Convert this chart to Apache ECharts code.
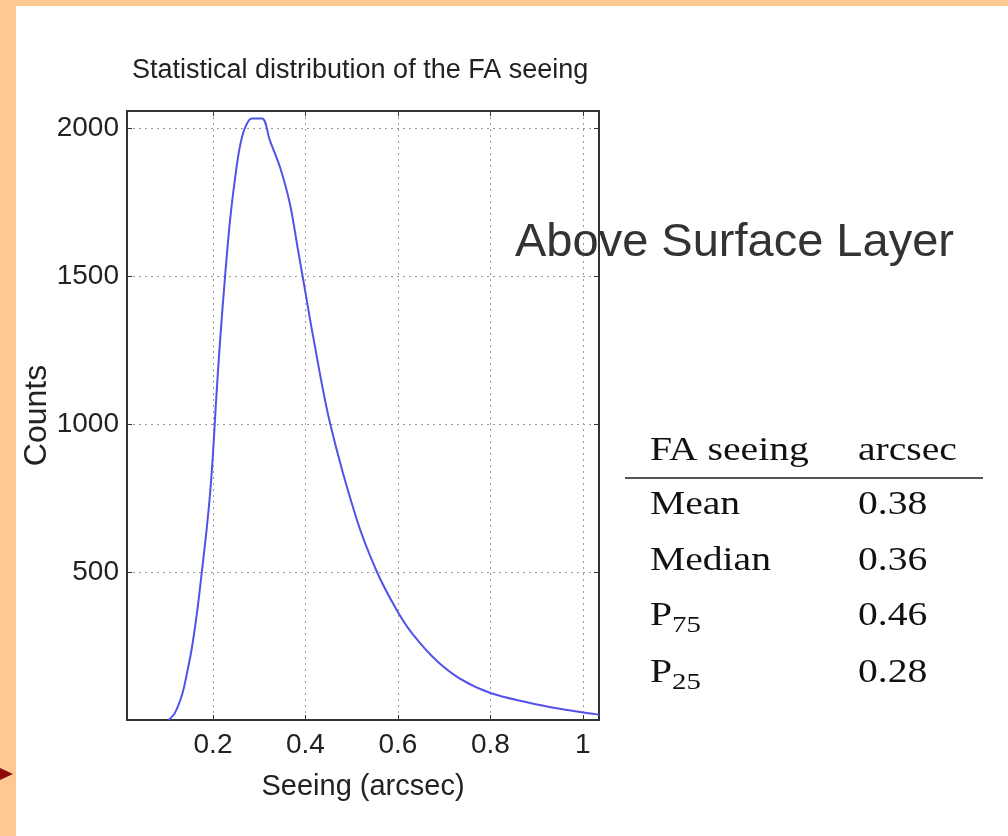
<!DOCTYPE html>
<html>
<head>
<meta charset="utf-8">
<script src="https://cdn.jsdelivr.net/npm/echarts@6/dist/echarts.min.js"></script>
<style>
  html, body { margin: 0; padding: 0; background: #fec893; }
  #panel { position: absolute; left: 16px; top: 6px; width: 992px; height: 830px; background: #fff; }
  #chart { position: absolute; left: 0; top: 0; width: 1008px; height: 836px; }
</style>
</head>
<body>
<div id="panel"></div>
<div id="chart"></div>
<script>
// FA seeing histogram (arcsec vs counts)
const seeing = [0.104, 0.118, 0.133, 0.144, 0.155, 0.166, 0.176, 0.186, 0.194, 0.200, 0.206, 0.215,
  0.226, 0.237, 0.248, 0.258, 0.269, 0.284, 0.306, 0.323, 0.345, 0.366, 0.384, 0.399, 0.416,
  0.453, 0.511, 0.555, 0.598, 0.632, 0.684, 0.734, 0.799, 0.879, 0.950, 1.022, 1.035];
const counts = [0, 25, 85, 160, 250, 370, 502, 640, 770, 900, 1060, 1274,
  1496, 1689, 1833, 1935, 1999, 2032, 2032, 1958, 1867, 1746, 1587, 1453, 1301,
  1004, 677, 499, 370, 290, 200, 140, 92, 60, 38, 21, 18];

// summary table on the right
const statNames = ["Mean", "Median", "P", "P"];
const statSubs = ["", "", "75", "25"];
const statValues = ["0.38", "0.36", "0.46", "0.28"];

const SANS = "'Liberation Sans', Arial, sans-serif";
const SERIF = "'Liberation Serif', serif";

const grid = { left: 127, top: 111, right: 409, bottom: 116 };
const dotted = { color: "#9a9a9a", width: 1, type: [2, 4] };
const boxLine = { show: true, onZero: false, lineStyle: { color: "#333", width: 2 } };
const inTick = { show: true, inside: true, length: 5, lineStyle: { color: "#333" } };

function tableGraphics() {
  const els = [];
  const sx = 1.2;
  const txt = (s, x, base, size) => ({
    type: "text", x, y: base - size * 0.34, scaleX: sx,
    style: { text: s, font: `${size}px ${SERIF}`, fill: "#111", verticalAlign: "middle" },
  });
  els.push(txt("FA seeing", 650, 463, 33));
  els.push(txt("arcsec", 858, 463, 33));
  els.push({ type: "line", shape: { x1: 625, y1: 478, x2: 983, y2: 478 }, style: { stroke: "#555", lineWidth: 2 } });
  const bases = [517, 573, 628, 685];
  statNames.forEach((n, i) => {
    els.push(txt(n, 650, bases[i], 33));
    if (statSubs[i]) els.push(txt(statSubs[i], 672, bases[i] + 6, 24));
    els.push(txt(statValues[i], 858, bases[i], 33));
  });
  return els;
}

const chart = echarts.init(document.getElementById("chart"), null, { renderer: "canvas" });
chart.setOption({
  animation: false,
  backgroundColor: "transparent",
  title: {
    text: "Statistical distribution of the FA seeing",
    left: 127, top: 52,
    textStyle: { fontFamily: SANS, fontSize: 27, fontWeight: "normal", color: "#222" },
  },
  grid,
  xAxis: [
    {
      type: "value", min: 0.014, max: 1.035, splitNumber: 5,
      name: "Seeing (arcsec)", nameLocation: "middle", nameGap: 52,
      nameTextStyle: { fontFamily: SANS, fontSize: 29, color: "#222" },
      axisLine: boxLine, axisTick: inTick,
      axisLabel: { showMinLabel: false, showMaxLabel: false, margin: 11, fontFamily: SANS, fontSize: 28, color: "#222" },
      splitLine: { show: true, lineStyle: dotted },
    },
    {
      type: "value", position: "top", min: 0.014, max: 1.035, splitNumber: 5,
      axisLine: boxLine, axisTick: inTick, axisLabel: { show: false }, splitLine: { show: false },
    },
  ],
  yAxis: [
    {
      type: "value", min: 0, max: 2057, interval: 500,
      name: "Counts", nameLocation: "middle", nameGap: 62, nameRotate: 90,
      nameTextStyle: { fontFamily: SANS, fontSize: 32, color: "#222" },
      axisLine: boxLine, axisTick: inTick,
      axisLabel: {
        showMinLabel: false, showMaxLabel: false, margin: 8,
        fontFamily: SANS, fontSize: 28, color: "#222",
        formatter: (v) => String(v),
      },
      splitLine: { show: true, lineStyle: dotted },
    },
    {
      type: "value", position: "right", min: 0, max: 2057, interval: 500,
      axisLine: boxLine, axisTick: inTick, axisLabel: { show: false }, splitLine: { show: false },
    },
  ],
  series: [{
    type: "line",
    data: seeing.map((s, i) => [s, counts[i]]),
    showSymbol: false,
    smooth: 0.35,
    lineStyle: { color: "#5252ea", width: 2 },
    itemStyle: { color: "#5252ea" },
    z: 3,
  }],
  graphic: [
    {
      type: "text", x: 515, y: 243,
      style: { text: "Above Surface Layer", font: "47px " + SANS, fill: "#333", verticalAlign: "middle" },
      z: 100,
    },
    { type: "polygon", shape: { points: [[0, 768], [13, 774], [0, 780]] }, style: { fill: "#8b0a0a" } },
    ...tableGraphics(),
  ],
});
</script>
</body>
</html>
